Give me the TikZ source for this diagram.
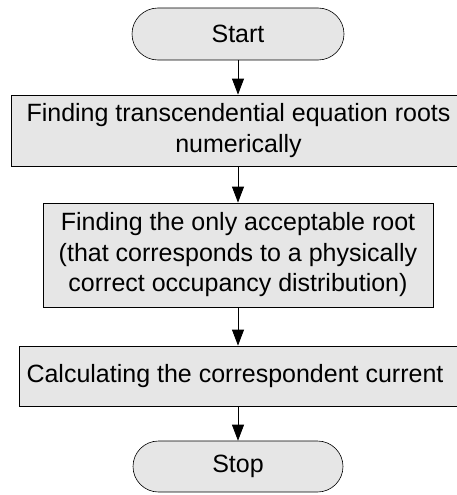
\documentclass[tikz,border=0pt]{standalone}
\usepackage{fontspec}
\setmainfont{Liberation Sans}
\usetikzlibrary{arrows.meta,shapes.misc}
\definecolor{boxfill}{HTML}{E6E6E6}
\begin{document}
\begin{tikzpicture}[x=1pt,y=-1pt,
  every node/.style={font=\fontsize{25}{30.5}\selectfont},
  procbox/.style={draw=black, fill=boxfill, line width=0.8pt, inner sep=0pt, align=center},
  termbox/.style={draw=black, fill=boxfill, line width=0.6pt, rounded rectangle, inner sep=0pt},
  flowarrow/.style={draw=black, line width=0.8pt, -{Triangle[length=16pt,width=12pt]}}]
\useasboundingbox (0,0) rectangle (457,495);
\clip (0,0) rectangle (457,495);
\node[termbox, minimum width=212pt, minimum height=52pt] (start) at (238,34) {Start};
\node[procbox, minimum width=455pt, minimum height=71pt] (b1) at (238.5,130.5) {Finding transcendential equation roots\\numerically};
\node[procbox, minimum width=390pt, minimum height=104pt] (b2) at (238,255) {Finding the only acceptable root\\(that corresponds to a physically\\correct occupancy distribution)};
\node[procbox, minimum width=442pt, minimum height=60pt] (b3) at (240,376) {Calculating the correspondent current\hspace*{10pt}};
\node[termbox, minimum width=210pt, minimum height=51pt] (stop) at (238,466.5) {Stop};
\draw[flowarrow] (start.south) -- (start.south |- b1.north);
\draw[flowarrow] (b1.south -| b2.north) -- (b2.north);
\draw[flowarrow] (b2.south) -- (b2.south |- b3.north);
\draw[flowarrow] (b3.south -| stop.north) -- (stop.north);
\end{tikzpicture}
\end{document}
